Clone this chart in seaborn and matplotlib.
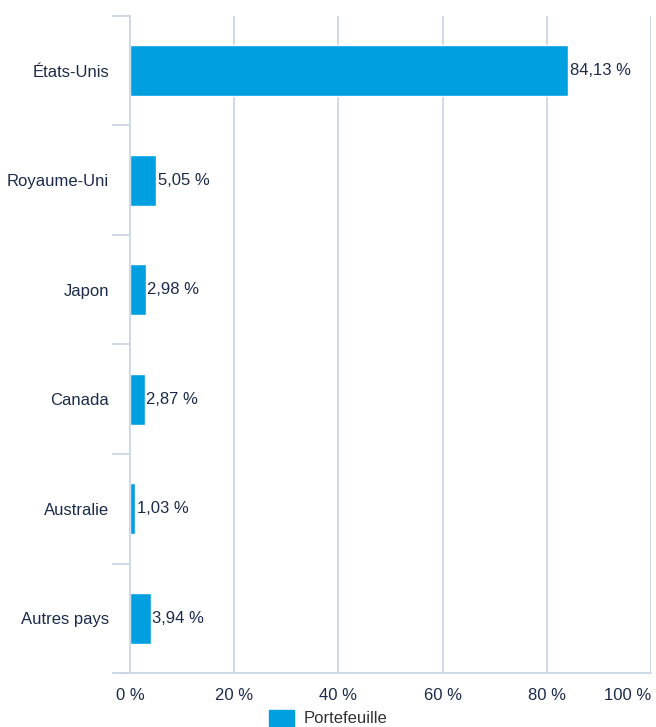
import numpy as np
import pandas as pd
import seaborn as sns
import matplotlib.pyplot as plt
from matplotlib.ticker import FixedLocator
from matplotlib.patches import Patch

# données du graphique
pays = ['États-Unis', 'Royaume-Uni', 'Japon', 'Canada', 'Australie', 'Autres pays']
poids = [84.13, 5.05, 2.98, 2.87, 1.03, 3.94]
serie = 'Portefeuille'
ticks_x = [0, 20, 40, 60, 80, 100]

bleu = '#009fdf'
texte = '#1c2b4b'
grille = '#c9d7e8'

sns.set_theme(style='white')
plt.rcParams['font.family'] = ['Liberation Sans', 'DejaVu Sans']

df = pd.DataFrame({'pays': pays, 'poids': poids, 'serie': serie})

fig = plt.figure(figsize=(6.56, 7.27), dpi=100)
ax = fig.add_axes([130 / 656, 1 - 673 / 727, 521 / 656, 657 / 727])

sns.barplot(data=df, x='poids', y='pays', hue='serie', palette=[bleu],
            width=0.47, saturation=1, ax=ax, legend=False)

# étiquettes de valeur
etiquettes = [f'{v:.2f}'.replace('.', ',') + ' %' for v in poids]
ax.bar_label(ax.containers[0], labels=etiquettes, padding=1,
             fontsize=12, color=texte)

ax.set_xlim(0, 100)
ax.set_ylim(len(pays) - 0.5, -0.5)
ax.set_xticks(ticks_x)
ax.set_xticklabels([f'{t} %' for t in ticks_x])
ax.get_xticklabels()[-1].set_horizontalalignment('right')
ax.set_xlabel('')
ax.set_ylabel('')

# grille verticale
for t in ticks_x[1:]:
    ax.axvline(t, color=grille, lw=1.3, zorder=0)

for s in ['top', 'right']:
    ax.spines[s].set_visible(False)
ax.spines['left'].set_color(grille)
ax.spines['left'].set_linewidth(1.3)
ax.spines['bottom'].set_visible(False)
ax.axhline(len(pays) - 0.5, xmin=-15 / 521, xmax=1.0, color=grille, lw=1.3,
           clip_on=False)

# petites marques aux limites des catégories
ax.yaxis.set_minor_locator(FixedLocator(np.arange(-0.5, len(pays), 1)))
ax.tick_params(axis='y', which='minor', length=13, width=1.3, color=grille, left=True)
ax.tick_params(axis='y', which='major', length=0, pad=15, labelsize=12, labelcolor=texte)
ax.tick_params(axis='x', length=0, pad=11, labelsize=12, labelcolor=texte)

# légende
fig.legend(handles=[Patch(color=bleu, label=serie)], loc='upper center',
           bbox_to_anchor=(0.5, 0.04), frameon=False, fontsize=12,
           handlelength=1.5, handleheight=1.1, handletextpad=0.6,
           labelcolor='#333333', borderpad=0.2)

fig.savefig('out.png', dpi=100)
